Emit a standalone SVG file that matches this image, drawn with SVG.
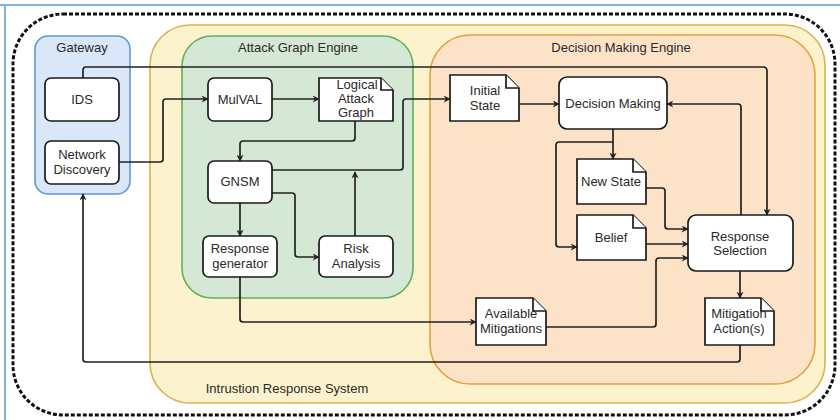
<svg xmlns="http://www.w3.org/2000/svg" width="840" height="420" viewBox="0 0 840 420">
<defs>
<style>
.t{font-family:"Liberation Sans",Arial,sans-serif;font-size:13px;fill:#2a2a2a;text-anchor:middle}
.n{fill:#fff;stroke:#1a1a1a;stroke-width:1.7}
.ca{fill:none;stroke:#222;stroke-width:1.7;stroke-linejoin:round;marker-end:url(#ah)}
</style>
<marker id="ah" viewBox="0 0 10 10" refX="9" refY="5" markerWidth="8" markerHeight="7" markerUnits="userSpaceOnUse" orient="auto">
<path d="M0,0 L10,5 L0,10 L3,5 Z" fill="#222"/>
</marker>
</defs>
<rect width="840" height="420" fill="#fff"/>
<line x1="0" y1="5" x2="840" y2="5" stroke="#7fb2dc" stroke-width="2"/>
<line x1="5" y1="5" x2="5" y2="420" stroke="#7fb2dc" stroke-width="2"/>
<rect x="13" y="14" width="822" height="401" rx="50" fill="none" stroke="#111" stroke-width="3" stroke-dasharray="4 2"/>

<g id="irs">
<rect x="150" y="25" width="675" height="378" rx="40" fill="#fcf2cd" stroke="#d8b350" stroke-width="1.6"/>
<text class="t" x="287" y="393">Intrustion Response System</text>
</g>
<g id="gateway">
<rect x="35" y="36" width="95" height="158" rx="13" fill="#d9e7f8" stroke="#5f98d0" stroke-width="1.6"/>
<text class="t" x="82" y="52">Gateway</text>
</g>
<g id="age">
<rect x="182" y="36" width="231" height="262" rx="30" fill="#d5e8d5" stroke="#5fb05f" stroke-width="1.6"/>
<text class="t" x="298" y="52">Attack Graph Engine</text>
</g>
<g id="dme">
<rect x="430" y="35" width="385" height="349" rx="40" fill="#fce3c8" stroke="#e3a23c" stroke-width="1.6"/>
<text class="t" x="621" y="52">Decision Making Engine</text>
</g>

<g id="connectors">
<path class="ca" d="M83,78 V70 Q83,67 86,67 H763 Q767,67 767,71 V215"/>
<path class="ca" d="M119,162 H160 Q163,162 163,159 V102 Q163,99 166,99 H208"/>
<path class="ca" d="M272,99 H319"/>
<path class="ca" d="M355,121 V138 Q355,141 352,141 H243 Q240,141 240,144 V161"/>
<path class="ca" d="M272,170 H400 Q403,170 403,167 V102 Q403,99 406,99 H450"/>
<path class="ca" d="M272,193 H292 Q295,193 295,196 V254 Q295,257 298,257 H319"/>
<path class="ca" d="M355,236 V172"/>
<path class="ca" d="M240,203 V236"/>
<path class="ca" d="M240,277 V319 Q240,322 243,322 H476"/>
<path class="ca" d="M519,104 H559"/>
<path class="ca" d="M613,129 V159"/>
<path class="ca" d="M613,142 H559 Q556,142 556,145 V244 Q556,247 559,247 H577"/>
<path class="ca" d="M646,188 H662 Q665,188 665,191 V226 Q665,229 668,229 H688"/>
<path class="ca" d="M646,244 H688"/>
<path class="ca" d="M546,327 H653 Q656,327 656,324 V261 Q656,258 659,258 H688"/>
<path class="ca" d="M741,215 V107 Q741,104 738,104 H667"/>
<path class="ca" d="M740,271 V298"/>
<path class="ca" d="M740,345 V359 Q740,362 737,362 H86 Q83,362 83,359 V194"/>
</g>

<g id="ids"><rect class="n" x="45" y="78" width="74" height="43" rx="6"/><text class="t" x="82" y="104">IDS</text></g>
<g id="netdisc"><rect class="n" x="45" y="141" width="74" height="43" rx="6"/><text class="t" x="82" y="159">Network</text><text class="t" x="82" y="174">Discovery</text></g>
<g id="mulval"><rect class="n" x="208" y="78" width="64" height="43" rx="6"/><text class="t" x="240" y="104">MulVAL</text></g>
<g id="lag"><path class="n" d="M319,78 H381 L393,90 V121 H319 Z"/><path class="n" d="M381,78 V90 H393" fill="none"/><text class="t" x="357" y="89">Logical</text><text class="t" x="356" y="103">Attack</text><text class="t" x="356" y="117">Graph</text></g>
<g id="gnsm"><rect class="n" x="208" y="161" width="64" height="42" rx="6"/><text class="t" x="240" y="186">GNSM</text></g>
<g id="respgen"><rect class="n" x="203" y="236" width="74" height="41" rx="6"/><text class="t" x="240" y="253">Response</text><text class="t" x="240" y="268">generator</text></g>
<g id="risk"><rect class="n" x="319" y="236" width="74" height="41" rx="6"/><text class="t" x="356" y="253">Risk</text><text class="t" x="356" y="268">Analysis</text></g>
<g id="initstate"><path class="n" d="M450,75 H506 L519,88 V121 H450 Z"/><path class="n" d="M506,75 V88 H519" fill="none"/><text class="t" x="485" y="95">Initial</text><text class="t" x="485" y="110">State</text></g>
<g id="decision"><rect class="n" x="559" y="77" width="108" height="52" rx="8"/><text class="t" x="613" y="108">Decision Making</text></g>
<g id="newstate"><path class="n" d="M577,159 H633 L646,172 V204 H577 Z"/><path class="n" d="M633,159 V172 H646" fill="none"/><text class="t" x="611" y="186">New State</text></g>
<g id="belief"><path class="n" d="M577,215 H633 L646,228 V260 H577 Z"/><path class="n" d="M633,215 V228 H646" fill="none"/><text class="t" x="611" y="242">Belief</text></g>
<g id="respsel"><rect class="n" x="688" y="215" width="105" height="56" rx="8"/><text class="t" x="740" y="241">Response</text><text class="t" x="740" y="255">Selection</text></g>
<g id="availmit"><path class="n" d="M476,298 H533 L546,311 V345 H476 Z"/><path class="n" d="M533,298 V311 H546" fill="none"/><text class="t" x="511" y="318">Available</text><text class="t" x="511" y="333">Mitigations</text></g>
<g id="mitact"><path class="n" d="M705,298 H761 L774,311 V345 H705 Z"/><path class="n" d="M761,298 V311 H774" fill="none"/><text class="t" x="739" y="318">Mitigation</text><text class="t" x="739" y="333">Action(s)</text></g>
</svg>
